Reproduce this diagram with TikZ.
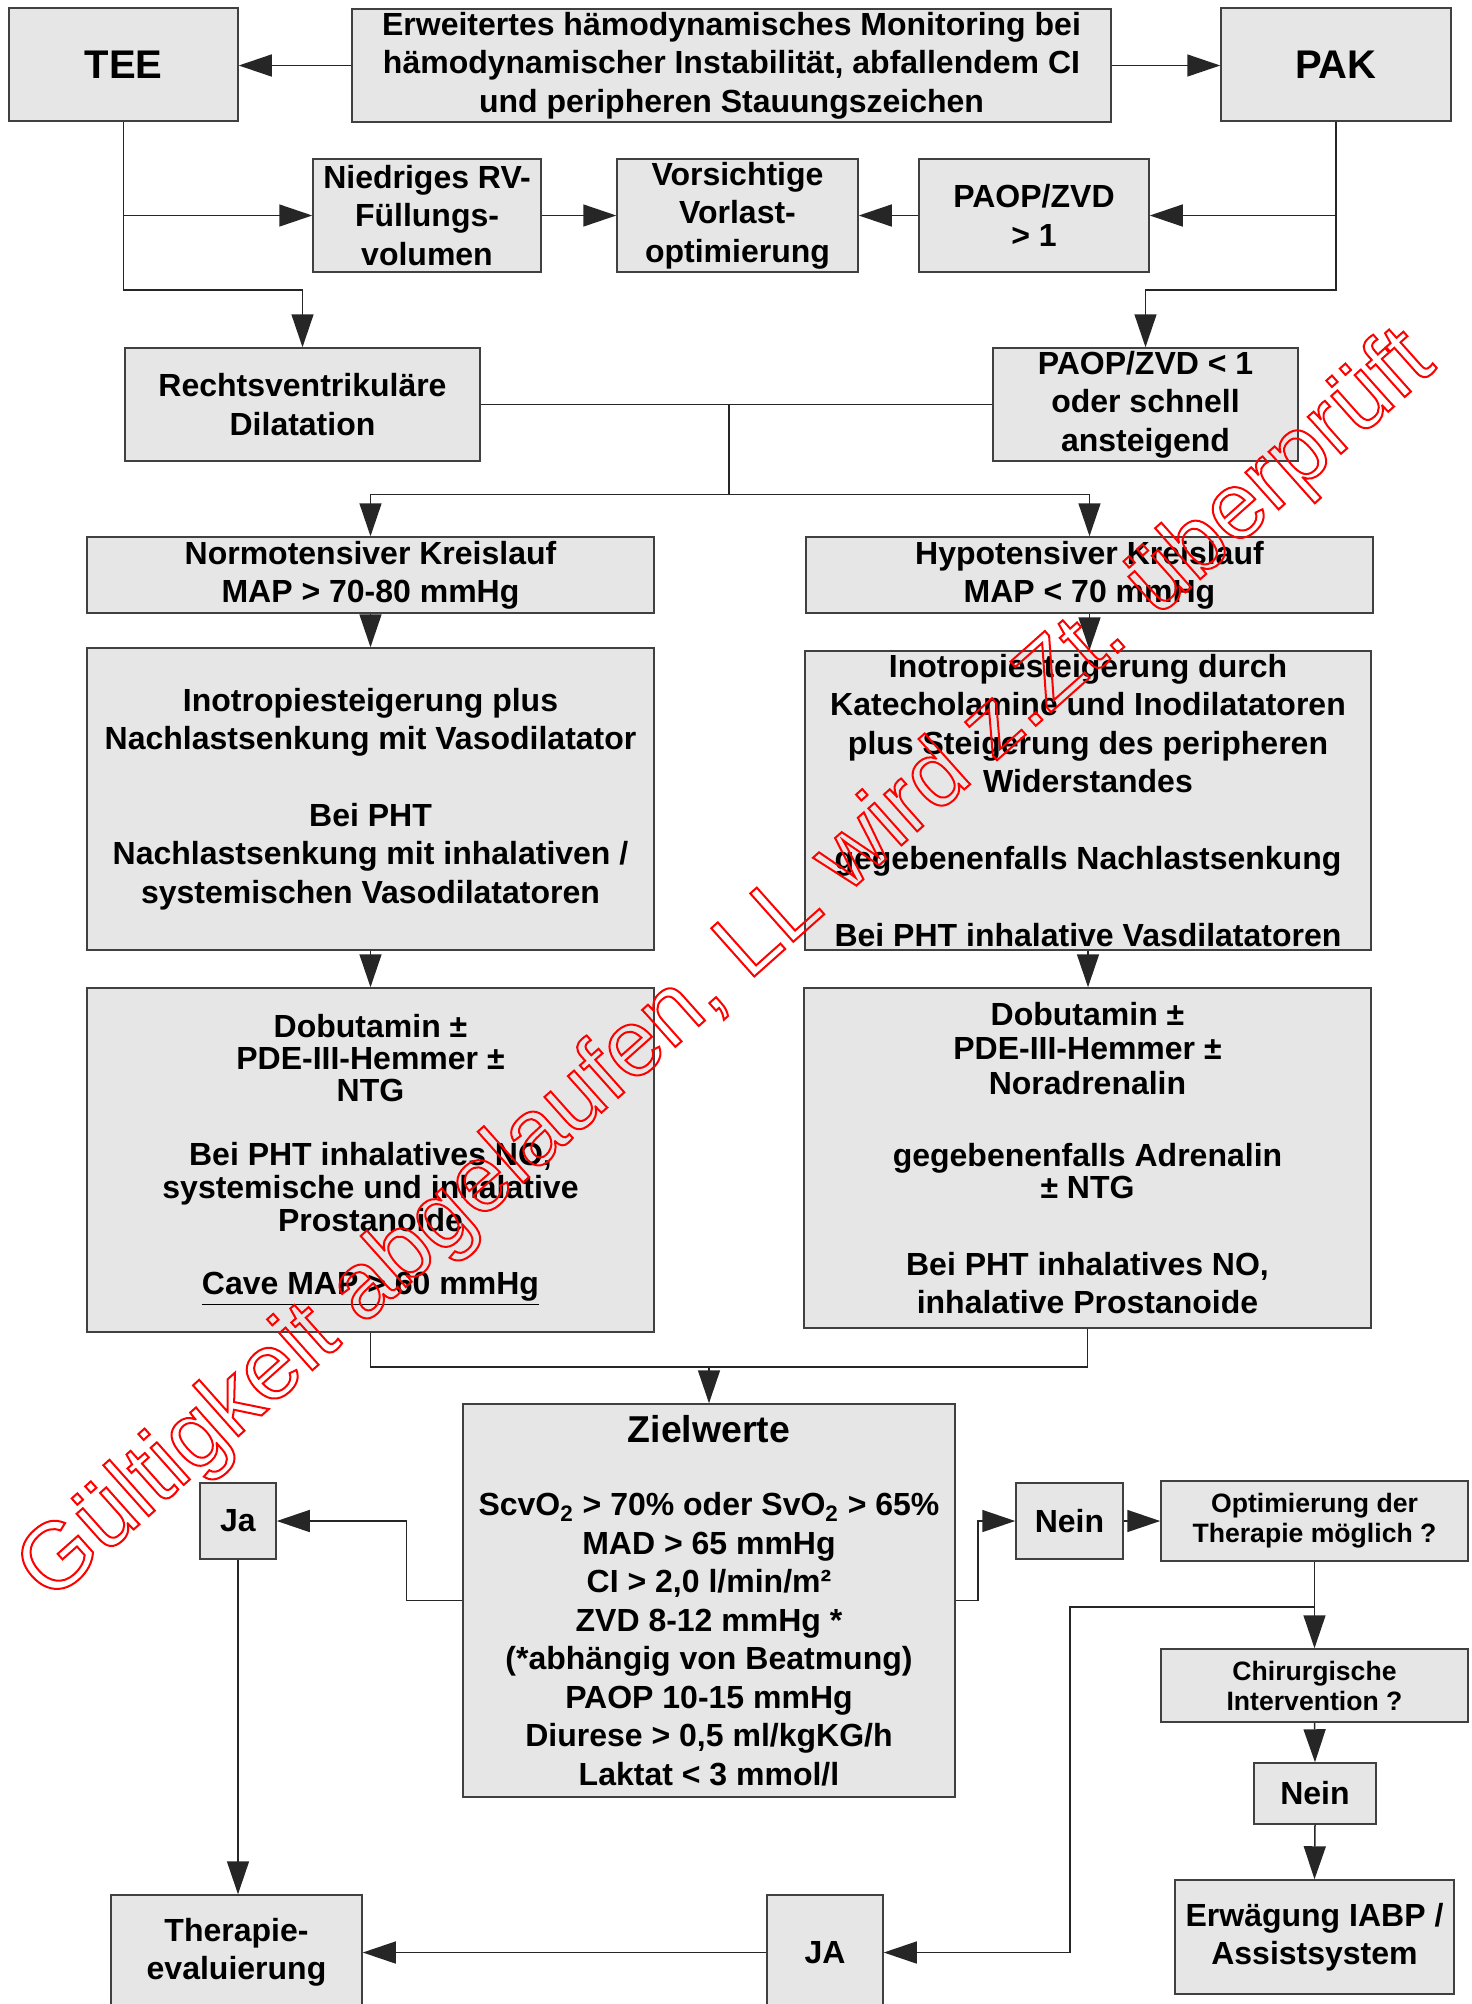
\documentclass[tikz,border=0pt]{standalone}
\usepackage{fontspec}
\setmainfont{Liberation Sans}
\usetikzlibrary{arrows.meta}
\definecolor{boxgray}{RGB}{230,230,230}
\newcommand\wmon{\special{pdf:literal direct 1 Tr 1 w 1 0 0 RG}}
\newcommand\wmoff{\special{pdf:literal direct 0 Tr 0 0 0 RG 0.4 w}}
\tikzset{
  box/.style={draw=black!75, fill=boxgray, line width=0.75pt, inner sep=0pt, align=center,
              font=\fontsize{16}{19.2}\selectfont\bfseries},
  sz/.style 2 args={minimum width=#1pt, minimum height=#2pt},
  bigtxt/.style={font=\fontsize{20}{24}\selectfont\bfseries},
  smalltxt/.style={font=\fontsize{13.3}{15}\selectfont\bfseries},
  conn/.style={draw=black!85, line width=0.75pt},
  arr/.style={conn, -{Triangle[length=16.5pt,width=11pt]}},
}
\begin{document}
\begin{tikzpicture}[x=0.5pt,y=-0.5pt]
\useasboundingbox (0,0) rectangle (1472,2004);
% boxes
\node[box,bigtxt,sz={114.5}{56.5}] (tee) at (123.5,64.5) {TEE};
\node[box,sz={379.5}{56.5}] (top) at (731.5,65.5) {Erweitertes hämodynamisches Monitoring bei\\hämodynamischer Instabilität, abfallendem CI\\und peripheren Stauungszeichen};
\node[box,bigtxt,sz={115}{56.5}] (pak) at (1336,64.5) {PAK};
\node[box,sz={114}{56.5}] (rv) at (427,215.5) {Niedriges RV-\\Füllungs-\\volumen};
\node[box,sz={120.5}{56.5}] (vv) at (737.5,215.5) {Vorsichtige\\Vorlast-\\optimierung};
\node[box,sz={115}{56.5}] (pg) at (1034,215.5) {PAOP/ZVD\\> 1};
\node[box,sz={177.5}{56.5}] (rd) at (302.5,404.5) {Rechtsventrikuläre\\Dilatation};
\node[box,sz={152.5}{56.5}] (pl) at (1145.5,404.5) {PAOP/ZVD < 1\\oder schnell\\ansteigend};
\node[box,sz={283.5}{38}] (no) at (370.5,575) {Normotensiver Kreislauf\\MAP > 70-80 mmHg};
\node[box,sz={283.5}{38}] (hy) at (1089.5,575) {Hypotensiver Kreislauf\\MAP < 70 mmHg};
\node[box,sz={283.5}{151}] (il) at (370.5,799) {Inotropiesteigerung plus\\Nachlastsenkung mit Vasodilatator\\[19.2pt]Bei PHT\\Nachlastsenkung mit inhalativen /\\systemischen Vasodilatatoren};
\node[box,sz={283}{149.5}] (ir) at (1088,800.5) {Inotropiesteigerung durch\\Katecholamine und Inodilatatoren\\plus  Steigerung des peripheren\\Widerstandes\\[19.2pt]gegebenenfalls Nachlastsenkung\\[19.2pt]Bei PHT inhalative Vasdilatatoren};
\node[box,sz={283.5}{172},font=\fontsize{16}{16}\selectfont\bfseries] (dl) at (370.5,1160) {Dobutamin ±\\PDE-III-Hemmer ±\\NTG\\[15.7pt]Bei PHT inhalatives NO,\\[0.5pt]systemische und inhalative\\[0.5pt]Prostanoide\\[15.7pt]\underline{Cave MAP > 60 mmHg}};
\node[box,sz={283.5}{170},font=\fontsize{16}{16}\selectfont\bfseries] (dr) at (1087.5,1158) {Dobutamin ±\\[0.7pt]PDE-III-Hemmer ±\\[1.5pt]Noradrenalin\\[20.3pt]gegebenenfalls Adrenalin\\± NTG\\[22.3pt]Bei PHT inhalatives NO,\\[3pt]inhalative Prostanoide};
\node[box,sz={246}{196.5},font=\fontsize{16}{19.25}\selectfont\bfseries] (zw) at (709,1600.5) {{\fontsize{18.7}{22}\selectfont Zielwerte}\\[17.6pt]ScvO\textsubscript{2} > 70\% oder SvO\textsubscript{2} > 65\%\\MAD > 65 mmHg\\CI > 2,0 l/min/m²\\ZVD 8-12 mmHg *\\(*abhängig von Beatmung)\\PAOP 10-15 mmHg\\Diurese > 0,5 ml/kgKG/h\\Laktat < 3 mmol/l};
\node[box,sz={38}{38}] (ja) at (238,1521) {Ja};
\node[box,sz={125.5}{57.5}] (te) at (236.5,1952.5) {Therapie-\\evaluierung};
\node[box,sz={58}{57.5}] (JA) at (825,1952.5) {JA};
\node[box,sz={53.5}{38}] (ne) at (1069.5,1521) {Nein};
\node[box,smalltxt,sz={153.5}{40}] (op) at (1314.5,1521) {Optimierung der\\Therapie möglich ?};
\node[box,smalltxt,sz={153.5}{36.5}] (ch) at (1314.5,1685.5) {Chirurgische\\Intervention ?};
\node[box,sz={61}{30.5}] (n2) at (1315,1793.5) {Nein};
\node[box,sz={139.5}{57}] (ew) at (1314.5,1937) {Erwägung IABP /\\Assistsystem};
% connectors
\draw[arr] (top.west) -- (tee.east |- top.west);
\draw[arr] (top.east) -- (pak.west |- top.east);
\draw[arr] (tee.south) -- ++(0,168) -| (rd.north);
\draw[arr] (tee.south |- rv.west) -- (rv.west);
\draw[arr] (rv.east) -- (vv.west);
\draw[arr] (pg.west) -- (vv.east);
\draw[arr] (pak.south) -- ++(0,168) -| (pl.north);
\draw[arr] (pak.south |- pg.east) -- (pg.east);
\draw[conn] (rd.east) -- coordinate[pos=0.485] (jn) (pl.west);
\draw[conn] (jn) -- ++(0,90) coordinate (jd);
\draw[arr] (jd) -| (no.north);
\draw[arr] (jd) -| (hy.north);
\draw[arr] (no.south) -- (il.north);
\draw[arr] (hy.south) -- (hy.south |- ir.north);
\draw[arr] (il.south) -- (dl.north);
\draw[arr] (ir.south) -- (ir.south |- dr.north);
\draw[conn] (dl.south) -- ++(0,34) coordinate (m1) -| (dr.south);
\draw[arr] (m1 -| zw.north) -- (zw.north);
\draw[arr] (zw.west) -- ++(-56,0) |- (ja.east);
\draw[arr] (ja.south) -- (ja.south |- te.north);
\draw[arr] (zw.east) -- ++(22,0) |- (ne.west);
\draw[arr] (ne.east) -- (op.west);
\draw[arr] (op.south) -- (ch.north);
\draw[arr] (op.south) ++(0,45) -- ++(-244.5,0) |- (JA.east);
\draw[arr] (ch.south) -- (n2.north);
\draw[arr] (n2.south) -- (ew.north);
\draw[arr] (JA.west) -- (te.east);
% watermark
\node[rotate=41.7, anchor=base west, inner sep=0pt, font=\fontsize{47}{50}\selectfont] (wm) at (50,1604) {\wmon Gültigkeit abgelaufen, LL wird z.Zt. überprüft\wmoff};
\end{tikzpicture}
\end{document}
